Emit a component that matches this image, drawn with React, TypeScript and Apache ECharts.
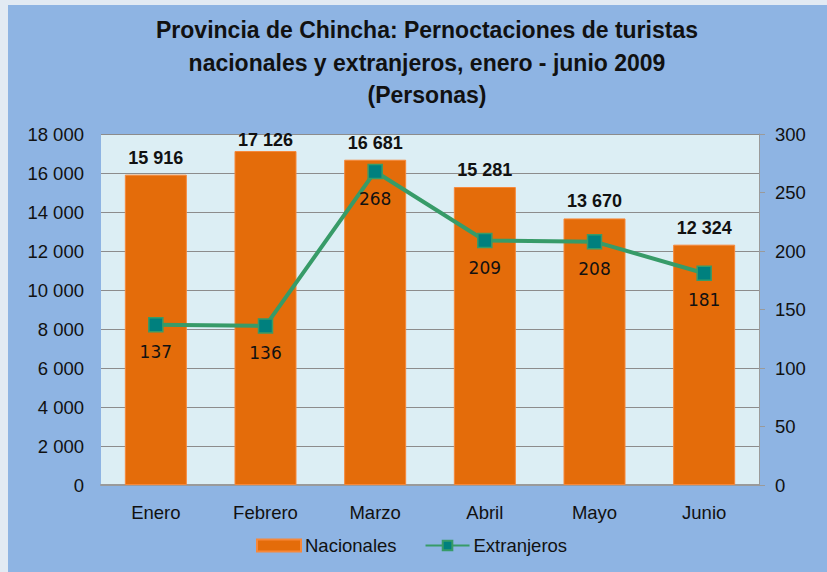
import React, { useEffect, useRef } from "react";
import * as echarts from "echarts";

const categories = ["Enero", "Febrero", "Marzo", "Abril", "Mayo", "Junio"];
const nacionales = [15916, 17126, 16681, 15281, 13670, 12324];
const extranjeros = [137, 136, 268, 209, 208, 181];
const titleText = "Provincia de Chincha: Pernoctaciones de turistas\nnacionales y extranjeros, enero - junio 2009\n(Personas)";

const fmt = (v: number) => String(v).replace(/\B(?=(\d{3})+(?!\d))/g, " ");

export default function App() {
  const ref = useRef<HTMLDivElement>(null);
  useEffect(() => {
    const chart = echarts.init(ref.current!, undefined, { renderer: "svg" });
    const font = "'Liberation Sans', Arial, sans-serif";
    const maxVal = Math.max(...nacionales);
    chart.setOption({
      animation: false,
      backgroundColor: "#e2eaf3",
      graphic: [
        { type: "rect", shape: { x: 8, y: 5, width: 819, height: 567 }, style: { fill: "#8EB4E3" }, z: -10 },
      ],
      title: {
        text: titleText,
        left: 422,
        textAlign: "center",
        top: 9,
        textStyle: { fontFamily: font, fontSize: 23, fontWeight: "bold", color: "#111", lineHeight: 32.5 },
      },
      legend: {
        bottom: 12,
        left: 251,
        itemWidth: 44,
        itemHeight: 12,
        itemGap: 28,
        textStyle: { fontFamily: font, fontSize: 18.5, color: "#111", padding: [0, 0, 0, -1] },
        data: [
          { name: "Nacionales", icon: "rect" },
          { name: "Extranjeros" },
        ],
      },
      grid: {
        left: 101, right: 68, top: 134, bottom: 87,
        show: true, backgroundColor: "#DCEEF4", borderWidth: 0,
      },
      xAxis: {
        type: "category",
        data: categories,
        axisLine: { lineStyle: { color: "#9a9a9a", width: 2 } },
        axisTick: { show: false },
        axisLabel: { fontFamily: font, fontSize: 18.5, color: "#111", margin: 18 },
      },
      yAxis: [
        {
          type: "value", min: 0, max: 18000, interval: 2000,
          axisLine: { show: false }, axisTick: { show: false },
          axisLabel: { fontFamily: font, fontSize: 18.5, color: "#111", margin: 17, formatter: (v: number) => fmt(v) },
          splitLine: { lineStyle: { color: "#8c8c8c", width: 1 } },
        },
        {
          type: "value", min: 0, max: 300, interval: 50,
          axisLine: { show: true, lineStyle: { color: "#9a9a9a", width: 1 } },
          axisTick: { show: true, length: 6, lineStyle: { color: "#9a9a9a" } },
          axisLabel: { fontFamily: font, fontSize: 18.5, color: "#111", margin: 16 },
          splitLine: { show: false },
        },
      ],
      series: [
        {
          name: "Nacionales",
          type: "bar",
          data: nacionales.map((v) => (v === maxVal ? { value: v, label: { distance: 2 } } : v)),
          barWidth: 62,
          itemStyle: { color: "#E46C0A", borderColor: "#F7883A", borderWidth: 1 },
          label: {
            show: true, position: "top", distance: 8,
            fontFamily: font, fontSize: 18, fontWeight: "bold", color: "#111",
            formatter: (p: any) => fmt(p.value),
          },
        },
        {
          name: "Extranjeros",
          type: "line",
          yAxisIndex: 1,
          data: extranjeros,
          symbol: "rect",
          symbolSize: 14,
          lineStyle: { color: "#379B68", width: 4 },
          itemStyle: { color: "#00807E", borderColor: "#379B68", borderWidth: 1.5 },
          label: {
            show: true, position: "bottom", distance: 11,
            fontFamily: "'DejaVu Sans', Verdana, sans-serif", fontSize: 17, color: "#111",
          },
          z: 5,
        },
      ],
    });
    return () => chart.dispose();
  }, []);
  return <div ref={ref} style={{ position: "fixed", left: 0, top: 0, width: 827, height: 572 }} />;
}
